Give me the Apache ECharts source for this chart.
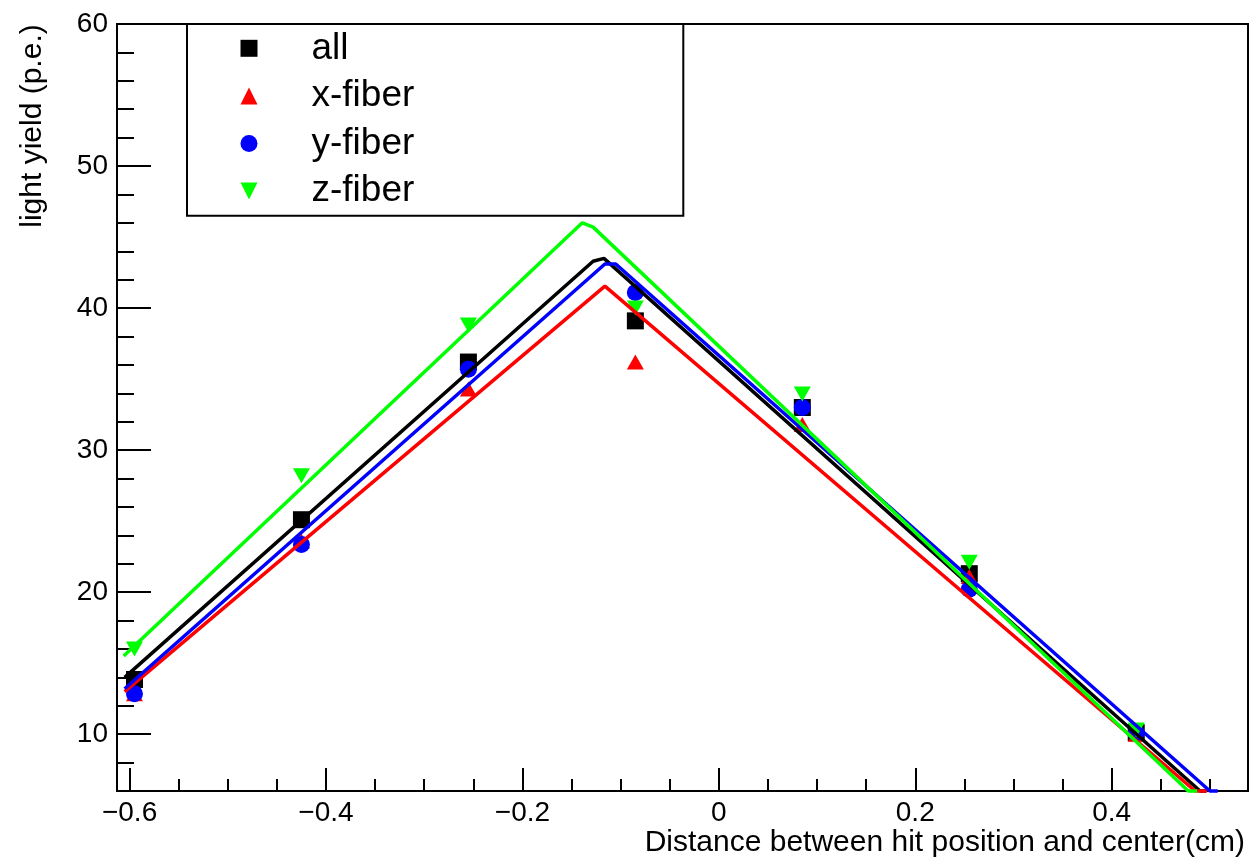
<!DOCTYPE html>
<html>
<head>
<meta charset="utf-8">
<script src="https://cdn.jsdelivr.net/npm/echarts@6/dist/echarts.min.js"></script>
<style>
  html, body { margin: 0; padding: 0; background: #fff; }
  #chart { width: 1250px; height: 859px; }
</style>
</head>
<body>
<div id="chart"></div>
<script>
// Hit positions (cm) of the scanned points
const positions = [-0.595, -0.425, -0.255, -0.085, 0.085, 0.255, 0.425];

// Mean light yield (p.e.) at each position
const yieldAll    = [13.85, 25.1, 36.2, 39.1, 33.0, 21.3, 10.1];
const yieldXFiber = [12.85, 23.6, 34.3, 36.2, 31.8, 21.1, 10.0];
const yieldYFiber = [12.85, 23.35, 35.7, 41.1, 33.0, 20.2, 10.1];
const yieldZFiber = [16.0, 28.2, 38.8, 40.0, 33.95, 22.1, 10.3];

// Fitted triangular response curves, given as their vertices [x (cm), light yield (p.e.)]
const fitAll    = [[-0.605, 14.0], [-0.128, 43.3], [-0.117, 43.5], [0.490, 6.0], [0.496, 6.0]];
const fitXFiber = [[-0.605, 13.0], [-0.116, 41.55], [0.485, 6.0], [0.497, 6.0]];
const fitYFiber = [[-0.605, 13.2], [-0.116, 43.1], [-0.105, 43.1], [0.500, 6.0], [0.508, 6.0]];
const fitZFiber = [[-0.606, 15.5], [-0.139, 46.0], [-0.128, 45.7], [0.478, 6.0], [0.487, 6.0]];

// Axis ticks
const xMajorTicks = [-0.6, -0.4, -0.2, 0, 0.2, 0.4];
const xTickLabels = ['\u22120.6', '\u22120.4', '\u22120.2', '0', '0.2', '0.4'];
const xMinorTicks = [-0.55, -0.5, -0.45, -0.35, -0.3, -0.25, -0.15, -0.1, -0.05,
                     0.05, 0.1, 0.15, 0.25, 0.3, 0.35, 0.45, 0.5];
const yMajorTicks = [10, 20, 30, 40, 50, 60];
const yMinorTicks = [8, 12, 14, 16, 18, 22, 24, 26, 28, 32, 34, 36, 38,
                     42, 44, 46, 48, 52, 54, 56, 58];

const seriesNames = ['all', 'x-fiber', 'y-fiber', 'z-fiber'];
const colors = ['#000000', '#ff0000', '#0000ff', '#00ff00'];

const X_MIN = -0.6128, X_MAX = 0.5388, Y_MIN = 6, Y_MAX = 60;
const FONT = '"Liberation Sans", Arial, Helvetica, sans-serif';
const DOWN_TRIANGLE = 'path://M0,0 L2,0 L1,2 Z';

const toPoints = ys => positions.map((x, i) => [x, ys[i]]);

const chart = echarts.init(document.getElementById('chart'), null, { renderer: 'canvas' });

const markerSeries = [
  { name: 'all',     data: toPoints(yieldAll),    symbol: 'rect',        symbolSize: 17 },
  { name: 'x-fiber', data: toPoints(yieldXFiber), symbol: 'triangle',    symbolSize: [17, 15] },
  { name: 'y-fiber', data: toPoints(yieldYFiber), symbol: 'circle',      symbolSize: 17 },
  { name: 'z-fiber', data: toPoints(yieldZFiber), symbol: DOWN_TRIANGLE, symbolSize: [17, 15] }
].map((s, i) => Object.assign({
  type: 'scatter',
  itemStyle: { color: colors[i], opacity: 1 },
  emphasis: { disabled: true },
  silent: true
}, s));

const fitSeries = [fitAll, fitXFiber, fitYFiber, fitZFiber].map((pts, i) => ({
  type: 'line',
  name: seriesNames[i] + ' fit',
  data: pts,
  showSymbol: false,
  symbol: 'none',
  clip: false,
  lineStyle: { color: colors[i], width: 3.5 },
  emphasis: { disabled: true },
  silent: true
}));

const xFmt = v => {
  const i = xMajorTicks.findIndex(t => Math.abs(t - v) < 1e-9);
  return i >= 0 ? xTickLabels[i] : '';
};

const tickStyle = { color: '#000', width: 2 };

chart.setOption({
  animation: false,
  backgroundColor: '#ffffff',
  grid: {
    left: 117, right: 2, top: 24, bottom: 68,
    containLabel: false,
    outerBoundsMode: 'none',
    show: true,
    borderColor: '#000',
    borderWidth: 2,
    backgroundColor: 'transparent'
  },
  legend: {
    orient: 'vertical',
    left: 187, top: 24,
    data: seriesNames,
    selectedMode: false,
    itemWidth: 17, itemHeight: 17, itemGap: 9.6,
    padding: [5.3, 269, 5.7, 53.5],
    borderColor: '#000', borderWidth: 2, borderRadius: 0,
    backgroundColor: '#ffffff',
    textStyle: { fontFamily: FONT, fontSize: 37, color: '#000', lineHeight: 30, padding: [0, 0, 8, 49] }
  },
  xAxis: [
    {
      type: 'value', min: X_MIN, max: X_MAX, position: 'bottom',
      axisLine: { show: false, onZero: false },
      splitLine: { show: false },
      axisTick: { show: true, inside: true, length: 23, customValues: xMajorTicks, lineStyle: tickStyle },
      axisLabel: { show: true, customValues: xMajorTicks, formatter: xFmt, margin: 8,
                   fontFamily: FONT, fontSize: 28, color: '#000' }
    },
    {
      type: 'value', min: X_MIN, max: X_MAX, position: 'bottom',
      axisLine: { show: false, onZero: false },
      splitLine: { show: false },
      axisTick: { show: true, inside: true, length: 12, customValues: xMinorTicks, lineStyle: tickStyle },
      axisLabel: { show: false }
    }
  ],
  yAxis: [
    {
      type: 'value', min: Y_MIN, max: Y_MAX, position: 'left',
      axisLine: { show: false, onZero: false },
      splitLine: { show: false },
      axisTick: { show: true, inside: true, length: 34, customValues: yMajorTicks, lineStyle: tickStyle },
      axisLabel: { show: true, customValues: yMajorTicks, margin: 9,
                   fontFamily: FONT, fontSize: 28, color: '#000' }
    },
    {
      type: 'value', min: Y_MIN, max: Y_MAX, position: 'left',
      axisLine: { show: false, onZero: false },
      splitLine: { show: false },
      axisTick: { show: true, inside: true, length: 17, customValues: yMinorTicks, lineStyle: tickStyle },
      axisLabel: { show: false }
    }
  ],
  graphic: [
    {
      type: 'text', x: 33, y: 126, rotation: Math.PI / 2, silent: true,
      style: { text: 'light yield (p.e.)', fontFamily: FONT, fontSize: 30, fill: '#000',
               align: 'center', verticalAlign: 'middle' }
    },
    {
      type: 'text', x: 1245, y: 843, silent: true,
      style: { text: 'Distance between hit position and center(cm)', fontFamily: FONT, fontSize: 30,
               fill: '#000', align: 'right', verticalAlign: 'middle' }
    }
  ],
  series: markerSeries.concat(fitSeries)
});
</script>
</body>
</html>
